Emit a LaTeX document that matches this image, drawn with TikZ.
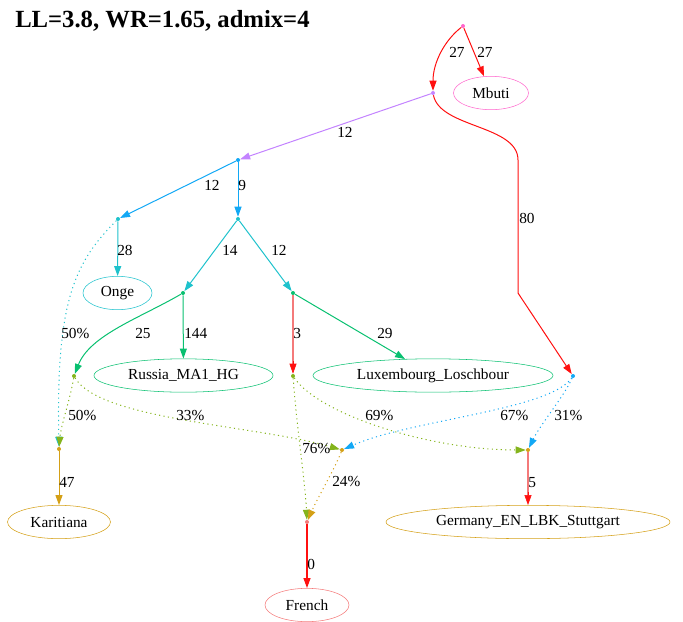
\documentclass[tikz,border=0pt]{standalone}
\usepackage{fontspec}
\setmainfont{Liberation Serif}
\usepackage{xcolor}
\usetikzlibrary{arrows.meta,shapes.geometric}
\definecolor{pinkc}{HTML}{FF66CC}
\definecolor{violetc}{HTML}{C383FF}
\definecolor{skyc}{HTML}{12A8F5}
\definecolor{tealc}{HTML}{1EC2CC}
\definecolor{greenc}{HTML}{08C070}
\definecolor{olivec}{HTML}{84B41C}
\definecolor{goldc}{HTML}{D4A017}
\definecolor{salmonc}{HTML}{F47A7A}
\definecolor{redc}{HTML}{FF1010}

\begin{document}
\begin{tikzpicture}[x=0.75pt,y=0.75pt,yscale=-1,xscale=1,
	dot/.style={circle,inner sep=0pt,minimum size=3pt},
	pop/.style={ellipse,draw,inner sep=0pt,minimum height=25pt,font=\rmfamily\fontsize{11.5}{13}\selectfont},
	lbl/.style={anchor=base west,inner sep=0pt,font=\rmfamily\fontsize{11.5}{13}\selectfont},
	e/.style={line width=0.75pt,-{Triangle[length=7.5pt,width=5.25pt]}},
	adm/.style={e,dash pattern={on 0.84pt off 2.51pt}},
	thk/.style={draw=salmonc,line width=1.5pt,shorten >=3pt},
	tipr/.style={draw=redc,line width=0.5pt,-{Triangle[length=7.5pt,width=5.25pt]}}]
			%set diagram size
			\useasboundingbox (0,0) rectangle (683,622);
			
			% Title
			\node (title) [anchor=base west,inner sep=0pt,font=\rmfamily\fontsize{18.5}{22}\selectfont\bfseries] at (15,27) {LL=3.8, WR=1.65, admix=4};
			
			%Shape: Points
			\node (R) [dot,fill=pinkc] at (463,26) {};
			\node (n1) [dot,fill=violetc] at (433,93) {};
			\node (n2) [dot,fill=skyc] at (238,160) {};
			\node (n3) [dot,fill=tealc] at (118,219) {};
			\node (n4) [dot,fill=tealc] at (238,219) {};
			\node (n5) [dot,fill=greenc] at (183,293) {};
			\node (n6) [dot,fill=greenc] at (293,293) {};
			\node (n7) [dot,fill=olivec] at (74,376) {};
			\node (n8) [dot,fill=olivec] at (293,376) {};
			\node (n9) [dot,fill=skyc] at (573,376) {};
			\node (k) [dot,fill=goldc] at (59,449) {};
			\node (n10) [dot,fill=goldc] at (342,450) {};
			\node (g) [dot,fill=goldc] at (528,450) {};
			\node (f) [dot,fill=salmonc] at (307,522) {};
			%tip starts
			\coordinate (t8) at (293,361);
			\coordinate (tg) at (528,492);
			
			%Shape: Ellipses
			\node (Mbuti) [pop,draw=pinkc,minimum width=56.25pt] at (491,93) {Mbuti};
			\node (Onge) [pop,draw=tealc,minimum width=51.75pt] at (117.5,293) {Onge};
			\node (Russia) [pop,draw=greenc,minimum width=134.25pt] at (183.5,375.5) {Russia\_MA1\_HG};
			\node (Lux) [pop,draw=greenc,minimum width=180pt] at (433,375.5) {Luxembourg\_Loschbour};
			\node (Karitiana) [pop,draw=goldc,minimum width=77.25pt] at (59,522) {Karitiana};
			\node (Germany) [pop,draw=goldc,minimum width=213pt] at (528,522) {Germany\_EN\_LBK\_Stuttgart};
			\node (French) [pop,draw=salmonc,minimum width=63pt] at (307,605) {French};
			
			%Straight Lines
			\draw [e,redc,line width=0.9pt] (f) -- (French);
			\draw [e,redc] (R) .. controls (445,40) and (433,62) .. (n1);
			\draw [e,redc] (R) -- (Mbuti);
			\draw [e,redc] (n1) .. controls (440,128) and (518,125) .. (518,160) -- (518,293) -- (n9);
			\draw [e,violetc] (n1) -- (n2);
			\draw [e,skyc] (n2) -- (n3);
			\draw [e,skyc] (n2) -- (n4);
			\draw [e,tealc] (n3) -- (Onge);
			\draw [adm,tealc] (n3) .. controls (75,262) and (56,300) .. (k);
			\draw [e,tealc] (n4) -- (n5);
			\draw [e,tealc] (n4) -- (n6);
			\draw [e,greenc] (n5) -- (Russia);
			\draw [e,greenc] (n5) .. controls (140,318) and (90,335) .. (n7);
			\draw [e,greenc] (n6) -- (Lux);
			\draw [thk] (n6) -- (n8);
			\draw [tipr] (t8) -- (n8);
			\draw [adm,olivec] (n7) .. controls (70,400) and (61,425) .. (k);
			\draw [adm,olivec] (n7) .. controls (100,420) and (255,425) .. (n10);
			\draw [adm,olivec] (n8) .. controls (297,430) and (305,480) .. (f);
			\draw [adm,olivec] (n8) .. controls (320,415) and (430,450) .. (g);
			\draw [adm,skyc] (n9) .. controls (550,410) and (410,420) .. (n10);
			\draw [adm,skyc] (n9) .. controls (565,395) and (540,425) .. (g);
			\draw [e,goldc] (k) -- (Karitiana);
			\draw [thk] (g) -- (Germany);
			\draw [tipr] (tg) -- (Germany);
			\draw [adm,goldc] (n10) .. controls (335,468) and (318,497) .. (f);
			
			% Text Node
			\node (l1) [lbl] at (449,57) {27};
			\node (l2) [lbl] at (477,57) {27};
			\node (l3) [lbl] at (519,223) {80};
			\node (l4) [lbl] at (337,137) {12};
			\node (l5) [lbl] at (204,190) {12};
			\node (l6) [lbl] at (238,190) {9};
			\node (l7) [lbl] at (117,255) {28};
			\node (l8) [lbl] at (222,255) {14};
			\node (l9) [lbl] at (271,255) {12};
			\node (l10) [lbl] at (61,338) {50\%};
			\node (l11) [lbl] at (135,338) {25};
			\node (l12) [lbl] at (184,338) {144};
			\node (l13) [lbl] at (293,338) {3};
			\node (l14) [lbl] at (377,338) {29};
			\node (l15) [lbl] at (68,420) {50\%};
			\node (l16) [lbl] at (176,420) {33\%};
			\node (l17) [lbl] at (365,420) {69\%};
			\node (l18) [lbl] at (500,420) {67\%};
			\node (l19) [lbl] at (554,420) {31\%};
			\node (l20) [lbl] at (302,453) {76\%};
			\node (l21) [lbl] at (59,487) {47};
			\node (l22) [lbl] at (332,486) {24\%};
			\node (l23) [lbl] at (528,487) {5};
			\node (l24) [lbl] at (307,569) {0};
			
		\end{tikzpicture}
\end{document}
